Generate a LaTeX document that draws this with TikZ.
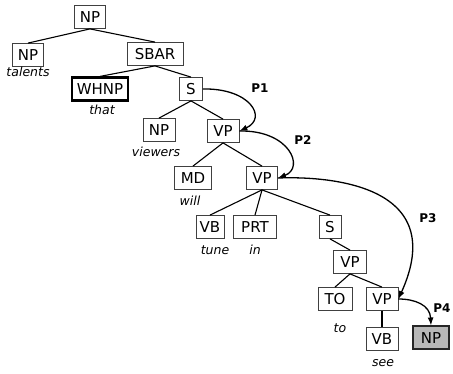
\documentclass[tikz,border=0pt]{standalone}
\usepackage{fontspec}
\setmainfont{DejaVu Sans}
\usetikzlibrary{arrows.meta}
\tikzset{
  box/.style={draw=black!75, line width=0.8pt, fill=white, font=\fontsize{15}{17}\selectfont, minimum height=23pt, inner xsep=2pt, inner ysep=0pt},
  word/.style={font=\fontsize{12.5}{14}\itshape\selectfont, inner sep=0pt},
  edge/.style={line width=1.1pt, draw=black},
  parr/.style={line width=1.3pt, -{Latex[length=8pt,width=6pt]}},
  plab/.style={font=\fontsize{12}{14}\bfseries\selectfont, inner sep=0pt}
}
\begin{document}
\begin{tikzpicture}[x=1pt,y=-1pt]
\useasboundingbox (0,0) rectangle (453,374);
\node[box, minimum width=31pt] (np0) at (90,17) {NP};
\node[box, minimum width=31pt] (np1) at (28,55) {NP};
\node[word] (w1) at (28,72) {talents};
\node[box, minimum width=56pt] (sbar) at (155,54) {SBAR};
\node[box, minimum width=56pt, line width=2.2pt, draw=black] (whnp) at (100,89) {WHNP};
\node[word] (w2) at (102,110) {that};
\node[box, minimum width=23pt] (s1) at (191,89) {S};
\node[box, minimum width=32pt] (np2) at (159,130) {NP};
\node[word] (w3) at (156,152) {viewers};
\node[box, minimum width=32pt] (vp1) at (223,131) {VP};
\node[box, minimum width=37pt] (md) at (193,178) {MD};
\node[word] (w4) at (190,201) {will};
\node[box, minimum width=31pt] (vp2) at (262,178) {VP};
\node[box, minimum width=28pt] (vb1) at (210,227) {VB};
\node[word] (w5) at (215,250) {tune};
\node[box, minimum width=43pt] (prt) at (255,227) {PRT};
\node[word] (w6) at (255,250) {in};
\node[box, minimum width=22pt] (s2) at (330,227) {S};
\node[box, minimum width=33pt] (vp3) at (350,262) {VP};
\node[box, minimum width=34pt] (to) at (335,299) {TO};
\node[word] (w7) at (340,328) {to};
\node[box, minimum width=32pt] (vp4) at (382,299) {VP};
\node[box, minimum width=32pt] (vb2) at (382,339) {VB};
\node[word] (w8) at (383,363) {see};
\node[box, minimum width=36pt, line width=2pt, draw=black!85, fill=black!28] (np3) at (431,338) {NP};

\draw[edge] (np0.south) -- (np1.north);
\draw[edge] (np0.south) -- (sbar.north);
\draw[edge] (sbar.south) -- (whnp.north);
\draw[edge] (sbar.south) -- (s1.north);
\draw[edge] (s1.south) -- (np2.north);
\draw[edge] (s1.south) -- (vp1.north);
\draw[edge] (vp1.south) -- (md.north);
\draw[edge] (vp1.south) -- (vp2.north);
\draw[edge] (vp2.south) -- (vb1.north);
\draw[edge] (vp2.south) -- (prt.north);
\draw[edge] (vp2.south) -- (s2.north);
\draw[edge] (s2.south) -- (vp3.north);
\draw[edge] (vp3.south) -- (to.north);
\draw[edge] (vp3.south) -- (vp4.north);
\draw[edge] (vp4.south) -- (vb2.north);

\draw[parr] (s1.east) .. controls (250,88) and (268,118) .. (vp1.east);
\draw[parr] (vp1.east) .. controls (290,130) and (305,168) .. (vp2.east);
\draw[parr] (vp2.east) .. controls (330,176) and (450,185) .. (vp4.east);
\draw[parr] (vp4.east) .. controls (415,299) and (430,305) .. (np3.north);

\node[plab] (p1) at (260,88) {P1};
\node[plab] (p2) at (303,140) {P2};
\node[plab] (p3) at (428,218) {P3};
\node[plab] (p4) at (442,308) {P4};
\end{tikzpicture}
\end{document}
